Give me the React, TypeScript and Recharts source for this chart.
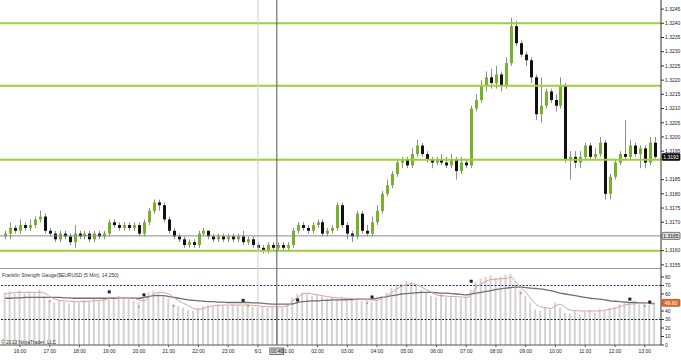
import React from 'react';
import { ComposedChart, Bar, Line, Scatter, XAxis, YAxis, ReferenceLine } from 'recharts';

// minutes relative to 16:00 (day 5/31)
const barStartMinutes = -30;
const barStepMinutes = 10;

// [open, high, low, close]
const candles: [number, number, number, number][] = [
  [1.3165, 1.3167, 1.3164, 1.3166], [1.3166, 1.3170, 1.3164, 1.3168], [1.3168, 1.3169, 1.3166, 1.3167], [1.3167, 1.3171, 1.3166, 1.3169],
  [1.3169, 1.3170, 1.3167, 1.3168], [1.3168, 1.3171, 1.3167, 1.3169], [1.3169, 1.3172, 1.3168, 1.3171], [1.3171, 1.3174, 1.3170, 1.3172],
  [1.3172, 1.3173, 1.3166, 1.3167], [1.3167, 1.3168, 1.3165, 1.3166], [1.3166, 1.3167, 1.3163, 1.3164], [1.3164, 1.3167, 1.3163, 1.3166],
  [1.3166, 1.3167, 1.3164, 1.3165], [1.3165, 1.3166, 1.3162, 1.3163], [1.3163, 1.3169, 1.3161, 1.3166], [1.3166, 1.3167, 1.3164, 1.3165],
  [1.3165, 1.3167, 1.3164, 1.3166], [1.3166, 1.3167, 1.3163, 1.3164], [1.3164, 1.3167, 1.3163, 1.3166], [1.3166, 1.3167, 1.3164, 1.3165],
  [1.3165, 1.3167, 1.3164, 1.3166], [1.3166, 1.3171, 1.3165, 1.3170], [1.3170, 1.3171, 1.3168, 1.3169], [1.3169, 1.3170, 1.3167, 1.3168],
  [1.3168, 1.3170, 1.3167, 1.3169], [1.3169, 1.3170, 1.3167, 1.3168], [1.3168, 1.3170, 1.3167, 1.3169], [1.3169, 1.3170, 1.3165, 1.3166],
  [1.3166, 1.3171, 1.3165, 1.3170], [1.3170, 1.3175, 1.3169, 1.3174], [1.3174, 1.3178, 1.3173, 1.3177], [1.3177, 1.3178, 1.3174, 1.3176],
  [1.3176, 1.3177, 1.3170, 1.3171], [1.3171, 1.3172, 1.3166, 1.3167], [1.3167, 1.3168, 1.3164, 1.3165], [1.3165, 1.3166, 1.3163, 1.3164],
  [1.3164, 1.3165, 1.3161, 1.3162], [1.3162, 1.3164, 1.3161, 1.3163], [1.3163, 1.3164, 1.3161, 1.3162], [1.3162, 1.3167, 1.3161, 1.3166],
  [1.3166, 1.3168, 1.3165, 1.3167], [1.3167, 1.3167, 1.3164, 1.3165], [1.3165, 1.3166, 1.3163, 1.3164], [1.3164, 1.3166, 1.3163, 1.3165],
  [1.3165, 1.3166, 1.3163, 1.3164], [1.3164, 1.3166, 1.3163, 1.3165], [1.3165, 1.3166, 1.3163, 1.3164], [1.3164, 1.3166, 1.3163, 1.3165],
  [1.3165, 1.3167, 1.3162, 1.3163], [1.3163, 1.3165, 1.3162, 1.3164], [1.3164, 1.3165, 1.3161, 1.3162], [1.3162, 1.3163, 1.3160, 1.3161],
  [1.3161, 1.3162, 1.3159, 1.3160], [1.3160, 1.3163, 1.3159, 1.3162], [1.3162, 1.3163, 1.3160, 1.3161], [1.3161, 1.3163, 1.3160, 1.3162],
  [1.3162, 1.3163, 1.3160, 1.3161], [1.3161, 1.3163, 1.3160, 1.3162], [1.3162, 1.3168, 1.3161, 1.3167], [1.3167, 1.3170, 1.3166, 1.3169],
  [1.3169, 1.3170, 1.3167, 1.3168], [1.3168, 1.3169, 1.3166, 1.3167], [1.3167, 1.3170, 1.3166, 1.3169], [1.3169, 1.3171, 1.3168, 1.3170],
  [1.3170, 1.3171, 1.3165, 1.3166], [1.3166, 1.3168, 1.3165, 1.3167], [1.3167, 1.3169, 1.3166, 1.3168], [1.3168, 1.3177, 1.3167, 1.3176],
  [1.3176, 1.3177, 1.3168, 1.3169], [1.3169, 1.3170, 1.3164, 1.3166], [1.3166, 1.3167, 1.3163, 1.3165], [1.3165, 1.3174, 1.3164, 1.3173],
  [1.3173, 1.3174, 1.3166, 1.3167], [1.3167, 1.3169, 1.3165, 1.3166], [1.3166, 1.3172, 1.3165, 1.3170], [1.3170, 1.3176, 1.3169, 1.3174],
  [1.3174, 1.3181, 1.3173, 1.3180], [1.3180, 1.3185, 1.3179, 1.3183], [1.3183, 1.3188, 1.3182, 1.3187], [1.3187, 1.3192, 1.3186, 1.3191],
  [1.3191, 1.3193, 1.3189, 1.3192], [1.3192, 1.3193, 1.3189, 1.3190], [1.3190, 1.3196, 1.3189, 1.3194], [1.3194, 1.3199, 1.3193, 1.3197],
  [1.3197, 1.3198, 1.3193, 1.3194], [1.3194, 1.3195, 1.3191, 1.3192], [1.3192, 1.3193, 1.3189, 1.3191], [1.3191, 1.3193, 1.3190, 1.3192],
  [1.3192, 1.3194, 1.3190, 1.3191], [1.3191, 1.3193, 1.3189, 1.3190], [1.3190, 1.3194, 1.3189, 1.3192], [1.3192, 1.3193, 1.3185, 1.3188],
  [1.3188, 1.3193, 1.3187, 1.3191], [1.3191, 1.3192, 1.3189, 1.3190], [1.3190, 1.3211, 1.3189, 1.3210], [1.3210, 1.3215, 1.3209, 1.3213],
  [1.3213, 1.3220, 1.3212, 1.3218], [1.3218, 1.3223, 1.3216, 1.3221], [1.3221, 1.3224, 1.3217, 1.3219], [1.3219, 1.3225, 1.3217, 1.3222],
  [1.3222, 1.3223, 1.3216, 1.3218], [1.3218, 1.3228, 1.3217, 1.3226], [1.3226, 1.3242, 1.3225, 1.3239], [1.3239, 1.3241, 1.3232, 1.3233],
  [1.3233, 1.3234, 1.3228, 1.3229], [1.3229, 1.3230, 1.3225, 1.3227], [1.3227, 1.3228, 1.3219, 1.3221], [1.3221, 1.3222, 1.3206, 1.3208],
  [1.3208, 1.3221, 1.3205, 1.3211], [1.3211, 1.3217, 1.3210, 1.3216], [1.3216, 1.3217, 1.3212, 1.3213], [1.3213, 1.3215, 1.3209, 1.3211],
  [1.3211, 1.3221, 1.3210, 1.3218], [1.3218, 1.3219, 1.3191, 1.3192], [1.3192, 1.3195, 1.3185, 1.3193], [1.3193, 1.3195, 1.3189, 1.3191],
  [1.3191, 1.3195, 1.3189, 1.3193], [1.3193, 1.3198, 1.3192, 1.3197], [1.3197, 1.3198, 1.3192, 1.3193], [1.3193, 1.3196, 1.3192, 1.3194],
  [1.3194, 1.3200, 1.3193, 1.3198], [1.3198, 1.3199, 1.3178, 1.3180], [1.3180, 1.3187, 1.3178, 1.3186], [1.3186, 1.3192, 1.3185, 1.3191],
  [1.3191, 1.3195, 1.3190, 1.3194], [1.3194, 1.3206, 1.3192, 1.3193], [1.3193, 1.3199, 1.3192, 1.3197], [1.3197, 1.3198, 1.3193, 1.3194],
  [1.3194, 1.3197, 1.3189, 1.3196], [1.3196, 1.3197, 1.3189, 1.3191], [1.3191, 1.3200, 1.3190, 1.3198], [1.3198, 1.3200, 1.3192, 1.3193],
];

const gaugeHist = [
  62, 63, 60, 64, 61, 63, 62, 65, 58, 52,
  50, 53, 51, 49, 52, 50, 53, 51, 54, 52,
  55, 57, 55, 58, 56, 54, 52, 50, 56, 62,
  64, 61, 58, 55, 48, 46, 44, 41, 40, 44,
  46, 47, 45, 48, 47, 46, 48, 47, 46, 48,
  45, 44, 46, 44, 45, 46, 44, 48, 56, 60,
  62, 60, 58, 59, 57, 55, 56, 54, 57, 54,
  53, 55, 52, 54, 51, 53, 58, 62, 67, 70,
  72, 75, 74, 70, 65, 62, 58, 56, 57, 56,
  58, 56, 55, 57, 65, 74, 78, 80, 82, 79,
  80, 83, 84, 72, 65, 58, 50, 42, 40, 45,
  42, 50, 44, 38, 37, 40, 36, 39, 41, 38,
  42, 40, 44, 45, 48, 50, 49, 52, 48, 51, 47, 49,
];

const gaugeFast = [
  60, 61, 61.5, 62, 62, 62, 62, 62, 61, 57,
  54, 52.5, 52, 51.5, 51, 51, 51, 51.5, 52, 52.5,
  53, 55, 56, 56, 56, 56, 55, 53, 52, 56,
  60, 62, 61.5, 60, 56, 52, 49, 46, 43, 42,
  43, 45, 46, 46.5, 47, 47, 47, 47, 47, 47,
  46.5, 46, 45.5, 45, 45, 45, 45, 46, 52, 56,
  60, 61, 60, 59, 58, 57, 56, 55.5, 55, 55,
  54.5, 54, 54, 53.5, 53, 52.5, 55, 58, 62, 66,
  69, 71, 72, 71, 68, 65, 62, 59, 58, 57.5,
  57, 57, 56.5, 56, 59, 68, 72, 75, 77, 77.5,
  78, 78, 80, 74, 68, 62, 55, 48, 45, 44,
  43, 46, 48, 44, 41, 40.5, 40, 40, 40, 40,
  40, 41, 42, 43, 45, 47, 48, 48.5, 49, 49, 48.5, 48,
];

const gaugeSlow = [
  55, 55, 55.5, 55.5, 56, 56, 56, 56, 56, 56,
  56, 56, 55.5, 55.5, 55, 55, 55, 55, 55, 55,
  55, 55, 55, 55.5, 55.5, 55.5, 55, 55, 56, 57,
  58, 58, 58, 57, 56, 55, 54, 53, 52.5, 52,
  51.5, 51, 51, 50.5, 50.5, 50, 50, 50, 50, 50,
  49.5, 49.5, 49, 48.5, 48, 48, 48, 48, 48.5, 50,
  51, 51.5, 52, 52, 52.5, 52.5, 53, 53, 53, 53.5,
  53.5, 54, 54, 54, 54, 55, 56, 57, 58, 59,
  60, 60.5, 61, 61.5, 62, 62, 62, 61.5, 61, 61,
  60.5, 60, 59.5, 59, 60, 61, 62, 63, 64, 65.5,
  66, 67, 67.5, 68, 68, 67.5, 67, 66.5, 66, 65,
  64, 62.5, 61, 60, 59, 58, 57, 56, 55, 54.5,
  54, 53, 52, 51.5, 51, 50.5, 50, 50, 49.5, 49.5, 49, 49,
];

const buySignals = [
  { t: 180, v: 62.5 }, { t: 250, v: 59 }, { t: 450, v: 52.5 }, { t: 560, v: 53 },
  { t: 710, v: 56.5 }, { t: 910, v: 75 }, { t: 1230, v: 54 }, { t: 1270, v: 50.5 },
];
const sellSignals = [
  { t: 60, v: 52 }, { t: 240, v: 45 }, { t: 310, v: 46 }, { t: 460, v: 46 },
  { t: 700, v: 49 }, { t: 850, v: 58 }, { t: 1010, v: 61 }, { t: 1260, v: 46 },
];

const levelLines = [1.324, 1.3218, 1.3192, 1.316];
// 1.3165 and 1.3190 are covered by the crosshair / last-price boxes in the reference
const priceTicks = [
  1.3155, 1.316, 1.317, 1.3175, 1.318, 1.3185, 1.3195, 1.32,
  1.3205, 1.321, 1.3215, 1.322, 1.3225, 1.323, 1.3235, 1.324, 1.3245,
];
// 50 is covered by the gauge value box
const gaugeTicks = [0, 10, 20, 30, 40, 60, 70, 80];
const timeTicks = [0, 60, 120, 180, 240, 300, 360, 420, 480, 540, 600, 660, 720, 780, 840, 900, 960, 1020, 1080, 1140, 1200, 1260];
const timeLabels = [
  '16:00', '17:00', '18:00', '19:00', '20:00', '21:00', '22:00', '23:00', '6/1', '01:00', '02:00',
  '03:00', '04:00', '05:00', '06:00', '07:00', '08:00', '09:00', '10:00', '11:00', '12:00', '13:00',
];

const timeDomain = [-40.34, 1292.8];
const priceDomain = [1.31539, 1.32482];
const gaugeDomain = [0, 90.6];
const dayBreakTime = 480;
const crosshairTime = 518;
const crosshairTimeLabel = '00:40';
const crosshairPrice = 1.31652;
const gaugeLast = 49.6;
const overBought = 70;
const overSold = 30;

const rows = candles.map((c, i) => ({
  t: barStartMinutes + i * barStepMinutes,
  o: c[0], h: c[1], l: c[2], c: c[3],
  range: [c[2], c[1]],
  hist: gaugeHist[i],
  fast: gaugeFast[i],
  slow: gaugeSlow[i],
}));
const lastClose = candles[candles.length - 1][3];

const FONT = '"Liberation Sans", Arial, sans-serif';

const Candle = (props: any) => {
  const { x, y, width, height, payload } = props;
  if (x == null || y == null || !payload) return null;
  const top = Math.min(y, y + height);
  const hpx = Math.abs(height);
  const k = payload.h > payload.l ? hpx / (payload.h - payload.l) : 0;
  const yo = top + (payload.h - payload.o) * k;
  const yc = top + (payload.h - payload.c) * k;
  const up = payload.c >= payload.o;
  const cx = Math.round(x + width / 2) + 0.5;
  const bTop = Math.min(yo, yc);
  const bH = Math.max(1, Math.abs(yc - yo));
  return (
    <g>
      <line x1={cx} x2={cx} y1={top} y2={top + hpx} stroke="#8e8e8e" strokeWidth={1} />
      <rect x={cx - 1.5} y={bTop} width={3} height={bH} fill={up ? '#78b22c' : '#111111'} />
    </g>
  );
};

const Square = (props: any) => {
  const { cx, cy } = props;
  if (cx == null) return null;
  return <rect x={cx - 1.5} y={cy - 1.5} width={3} height={3} fill="#1c1c40" />;
};
const Dot = (props: any) => {
  const { cx, cy } = props;
  if (cx == null) return null;
  return <circle cx={cx} cy={cy} r={1.1} fill="#c9948c" />;
};

const axisBox = (text: string, fill: string, color: string, stroke: string) => (p: any) => {
  const vb = p.viewBox || {};
  const bx = (vb.x || 0) + (vb.width || 0) + 1;
  const by = vb.y || 0;
  return (
    <g>
      <rect x={bx} y={by - 3.5} width={18} height={7} fill={fill} stroke={stroke} strokeWidth={0.7} rx={1} />
      <text x={bx + 9} y={by + 1.8} fontSize={5} textAnchor="middle" fill={color} fontFamily={FONT}>{text}</text>
    </g>
  );
};

const timeBox = (text: string) => (p: any) => {
  const vb = p.viewBox || {};
  const cx = vb.x || 0;
  const by = (vb.y || 0) + (vb.height || 0) + 3;
  return (
    <g>
      <rect x={cx - 7} y={by} width={14} height={6.5} fill="#d9d9d9" stroke="#444" strokeWidth={0.7} />
      <text x={cx} y={by + 5} fontSize={4.6} textAnchor="middle" fill="#111" fontFamily={FONT}>{text}</text>
    </g>
  );
};

export default function App() {
  return (
    <div style={{ position: 'relative', width: 681, height: 360, background: '#fff', overflow: 'hidden', fontFamily: FONT }}>
      <style>{'body{margin:0;}'}</style>
      <div style={{ position: 'absolute', left: 0, top: 0 }}>
        <ComposedChart width={681} height={268} data={rows} margin={{ top: 0, right: 0, bottom: 0, left: 0 }}>
          <XAxis type="number" dataKey="t" domain={timeDomain} allowDataOverflow hide />
          <YAxis
            orientation="right"
            width={20}
            domain={priceDomain}
            allowDataOverflow
            ticks={priceTicks}
            interval={0}
            tickFormatter={(v: number) => v.toFixed(4)}
            tick={{ fontSize: 5, fill: '#222' }}
            tickSize={3}
            tickMargin={1}
            axisLine={{ stroke: '#333' }}
            tickLine={{ stroke: '#333' }}
          />
          {levelLines.map((lv) => (
            <ReferenceLine key={lv} y={lv} stroke="#9bcf3c" strokeWidth={2} />
          ))}
          <ReferenceLine x={dayBreakTime} stroke="#d0d0d0" strokeWidth={1} />
          <ReferenceLine y={crosshairPrice} stroke="#8a8a8a" strokeWidth={1}
            label={axisBox(crosshairPrice.toFixed(4), '#dcdcdc', '#111', '#444')} />
          <ReferenceLine x={crosshairTime} stroke="#555" strokeWidth={1} />
          <Bar dataKey="range" barSize={3} shape={<Candle />} isAnimationActive={false} />
          <ReferenceLine y={lastClose} stroke="none"
            label={axisBox(lastClose.toFixed(4), '#111', '#fff', '#111')} />
        </ComposedChart>
      </div>
      <div style={{ position: 'absolute', left: 0, top: 268 }}>
        <ComposedChart width={681} height={92} data={rows} margin={{ top: 0, right: 0, bottom: 0, left: 0 }}>
          <XAxis
            type="number"
            dataKey="t"
            domain={timeDomain}
            allowDataOverflow
            ticks={timeTicks}
            interval={0}
            height={15}
            tickFormatter={(t: number) => timeLabels[timeTicks.indexOf(t)] ?? ''}
            tick={{ fontSize: 5, fill: '#222' }}
            tickSize={2}
            tickMargin={2}
            axisLine={{ stroke: '#555' }}
            tickLine={{ stroke: '#555' }}
          />
          <YAxis
            orientation="right"
            width={20}
            domain={gaugeDomain}
            allowDataOverflow
            ticks={gaugeTicks}
            interval={0}
            tick={{ fontSize: 5, fill: '#222' }}
            tickSize={3}
            tickMargin={1}
            axisLine={{ stroke: '#333' }}
            tickLine={{ stroke: '#333' }}
          />
          <Bar dataKey="hist" barSize={2} fill="#d3d3d3" isAnimationActive={false} />
          <ReferenceLine y={gaugeDomain[1]} stroke="#9a9a9a" strokeWidth={2} />
          <ReferenceLine y={overBought} stroke="#2d2d8c" strokeWidth={1.2} strokeDasharray="2 1.5" />
          <ReferenceLine y={overSold} stroke="#222" strokeWidth={1.2} strokeDasharray="2 1.5" />
          <ReferenceLine x={dayBreakTime} stroke="#d0d0d0" strokeWidth={1} />
          <ReferenceLine x={crosshairTime} stroke="#555" strokeWidth={1} label={timeBox(crosshairTimeLabel)} />
          <Line type="monotone" dataKey="slow" stroke="#707070" strokeWidth={1.3} dot={false} isAnimationActive={false} />
          <Line type="monotone" dataKey="fast" stroke="#d7a39a" strokeWidth={1} dot={false} isAnimationActive={false} />
          <Scatter data={buySignals} dataKey="v" shape={<Square />} isAnimationActive={false} />
          <Scatter data={sellSignals} dataKey="v" shape={<Dot />} isAnimationActive={false} />
          <ReferenceLine y={gaugeLast} stroke="none"
            label={axisBox(gaugeLast.toFixed(2), '#e06a2c', '#fff', '#b04a1a')} />
        </ComposedChart>
      </div>
      <div style={{ position: 'absolute', left: 2, top: 272, fontSize: 5, lineHeight: '6px', color: '#333', whiteSpace: 'nowrap' }}>
        Franklin Strength Gauge($EURUSD (5 Min), 14,250)
      </div>
      <div style={{ position: 'absolute', left: 1, top: 339, fontSize: 5, lineHeight: '6px', color: '#333', whiteSpace: 'nowrap' }}>
        © 2013 NinjaTrader, LLC
      </div>
    </div>
  );
}
